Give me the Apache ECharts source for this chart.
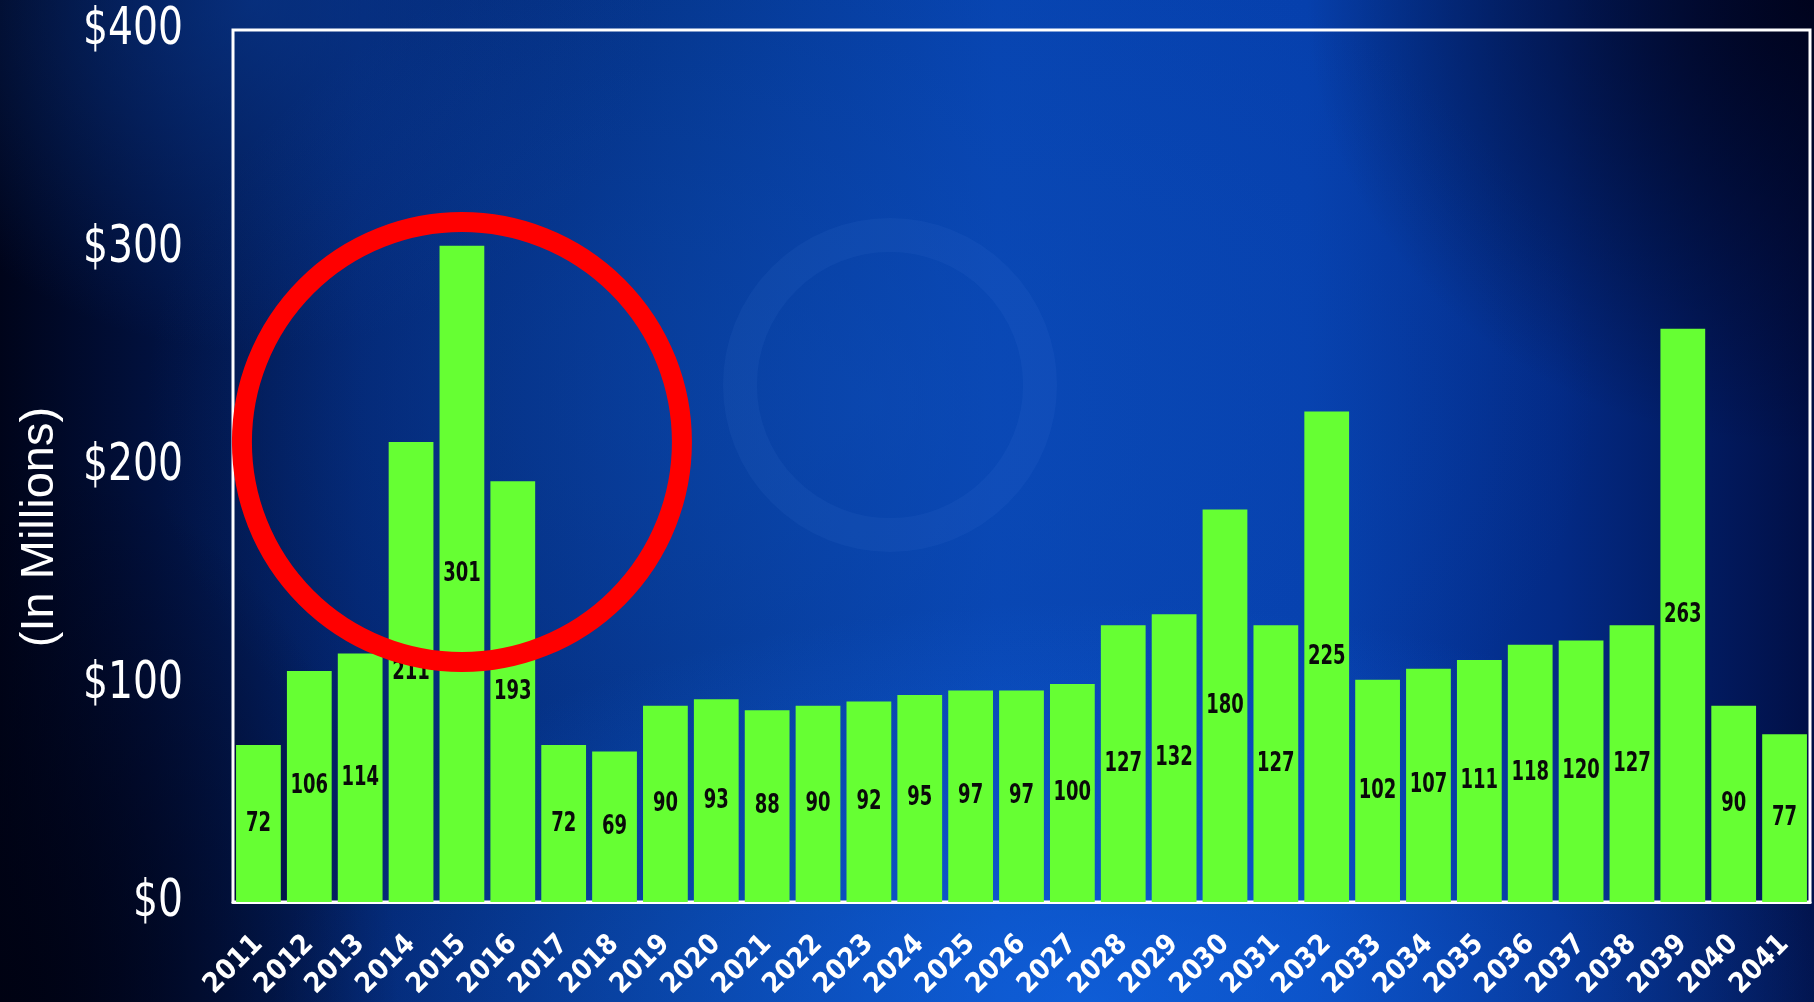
<!DOCTYPE html>
<html>
<head>
<meta charset="utf-8">
<script src="https://cdn.jsdelivr.net/npm/echarts@6/dist/echarts.min.js"></script>
<style>
html,body{margin:0;padding:0;width:1814px;height:1002px;overflow:hidden;}
#bg{position:absolute;left:0;top:0;width:1814px;height:1002px;
background:
 radial-gradient(ellipse 22% 55% at 0% 100%, rgba(0,2,18,0.95), rgba(0,2,18,0) 100%),
 radial-gradient(ellipse 45% 40% at 60% 100%, rgba(20,110,240,0.6), rgba(20,110,240,0) 100%),
 radial-gradient(ellipse 28% 45% at 100% 0%, rgba(0,2,25,0.9), rgba(0,2,25,0) 100%),
 radial-gradient(ellipse 40% 50% at 48% 40%, rgba(15,80,190,0.45), rgba(15,80,190,0) 100%),
 radial-gradient(ellipse 22% 35% at 14% 0%, rgba(10,60,150,0.6), rgba(10,60,150,0) 100%),
 linear-gradient(to right, #00041a 0%, #01103c 8%, #03256f 20%, #05378f 38%, #0744b0 55%, #0640ad 72%, #032a85 86%, #010f45 100%);
}
#chart{position:absolute;left:0;top:0;width:1814px;height:1002px;}
</style>
</head>
<body>
<div id="bg"></div>
<div id="chart"></div>
<script>
const years = ['2011','2012','2013','2014','2015','2016','2017','2018','2019','2020','2021','2022','2023','2024','2025','2026','2027','2028','2029','2030','2031','2032','2033','2034','2035','2036','2037','2038','2039','2040','2041'];
const values = [72,106,114,211,301,193,72,69,90,93,88,90,92,95,97,97,100,127,132,180,127,225,102,107,111,118,120,127,263,90,77];
const yTicks = [0,100,200,300,400];
const yAxisTitle = '(In Millions)';
const highlightYear = '2015';
const highlightCenterValue = 211;

const GRID_LEFT = 233;
const chart = echarts.init(document.getElementById('chart'), null, {renderer:'canvas'});
const option = {
  backgroundColor: 'transparent',
  animation: false,
  grid: {left:GRID_LEFT, right:4, top:30, bottom:100, show:true, borderColor:'#ffffff', borderWidth:3, backgroundColor:'transparent', containLabel:false},
  xAxis: {
    type:'category', data: years,
    axisTick:{show:false},
    axisLine:{show:true, lineStyle:{color:'#ffffff', width:3}},
    axisLabel:{interval:0, rotate:45, margin:38, color:'#ffffff', fontFamily:'DejaVu Sans Condensed', fontWeight:'bold', fontSize:28}
  },
  yAxis: {
    type:'value', min:yTicks[0], max:yTicks[yTicks.length-1], interval:100,
    splitLine:{show:false}, axisLine:{show:false}, axisTick:{show:false},
    axisLabel:{show:false}
  },
  series: [{
    type:'bar', data: values, barCategoryGap:'12%',
    itemStyle:{color:'#66ff33'},
    label:{show:false}
  }, {
    type:'custom', data: values.map((v,i)=>[i,v]), z:5,
    renderItem: function(params, api){
      const i = api.value(0), v = api.value(1);
      const p = api.coord([i, v/2]);
      return {type:'text', x:p[0], y:p[1], scaleX:0.74,
        style:{text:String(v), textAlign:'center', textVerticalAlign:'middle', fill:'#0a0a0a',
               font:'600 27px "DejaVu Sans Condensed"'}};
    }
  }]
};
chart.setOption(option);
const c = chart.convertToPixel({xAxisIndex:0, yAxisIndex:0}, [highlightYear, highlightCenterValue]);
const g = [];
// faint background emblem
g.push({type:'circle', z:-10, silent:true, shape:{cx:890, cy:385, r:150},
  style:{fill:'none', stroke:'rgba(120,170,255,0.06)', lineWidth:34}});
yTicks.forEach(t => {
  const py = chart.convertToPixel({yAxisIndex:0}, t);
  g.push({type:'text', x:GRID_LEFT-50, y:py, scaleX:0.84,
    style:{text:'$'+t, textAlign:'right', textVerticalAlign:'middle', fill:'#ffffff', font:'52px "DejaVu Sans Condensed"'}});
});
g.push({type:'text', x:40, y:527, rotation:Math.PI/2,
  style:{text:yAxisTitle, fill:'#ffffff', font:'47px "Liberation Sans"', textAlign:'center', textVerticalAlign:'middle'}});
g.push({type:'circle', z:100, shape:{cx:c[0], cy:c[1], r:220},
  style:{fill:'none', stroke:'#ff0000', lineWidth:20}});
chart.setOption({graphic:g});
</script>
</body>
</html>
